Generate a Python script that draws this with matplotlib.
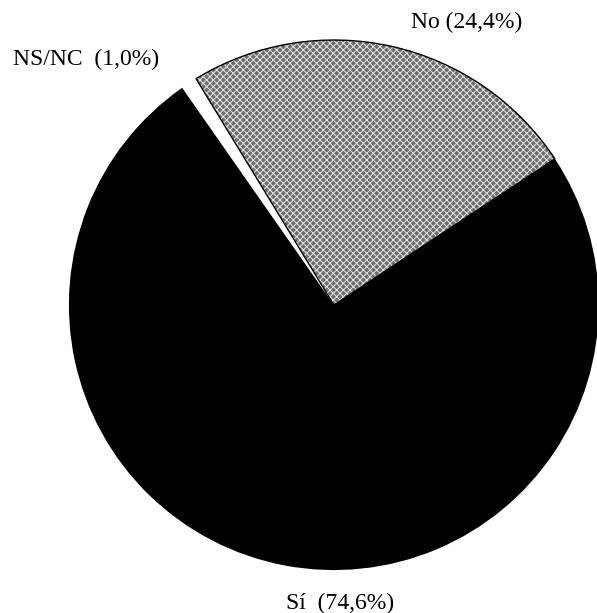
import matplotlib.pyplot as plt
from matplotlib.patches import Wedge

plt.rcParams['font.family'] = ['Liberation Serif', 'DejaVu Serif']
plt.rcParams['hatch.linewidth'] = 0.7

# data
labels = ['No (24,4%)', 'NS/NC  (1,0%)', 'Sí  (74,6%)']
values = [24.4, 1.0, 74.6]
colors = ['#6e6e6e', 'white', 'black']

fig = plt.figure(figsize=(5.97, 6.13), dpi=100)
ax = fig.add_axes([0, 0, 1, 1])

wedges, _ = ax.pie(values, colors=colors, startangle=33.5, counterclock=True,
                   radius=1, center=(0, 0),
                   wedgeprops=dict(linewidth=0))

# fine crosshatch texture on the "No" slice
no = wedges[0]
no.set_hatch('xxxxx')
no.set_edgecolor('#e8e8e8')
no.set_linewidth(0)

# thin black outline around the "No" slice
ax.add_patch(Wedge((0, 0), 1, no.theta1, no.theta2, fill=False,
                   edgecolor='black', linewidth=1.0))

# labels
ax.text(0.502, 1.068, labels[0], ha='center', va='center', fontsize=17)
ax.text(-0.936, 0.925, labels[1], ha='center', va='center', fontsize=17)
ax.text(0.023, -1.125, labels[2], ha='center', va='center', fontsize=17)

ax.set_xlim(-1.260, 0.993)
ax.set_ylim(-1.162, 1.151)
ax.set_aspect('auto')
ax.axis('off')

plt.savefig('out.png', dpi=100)
